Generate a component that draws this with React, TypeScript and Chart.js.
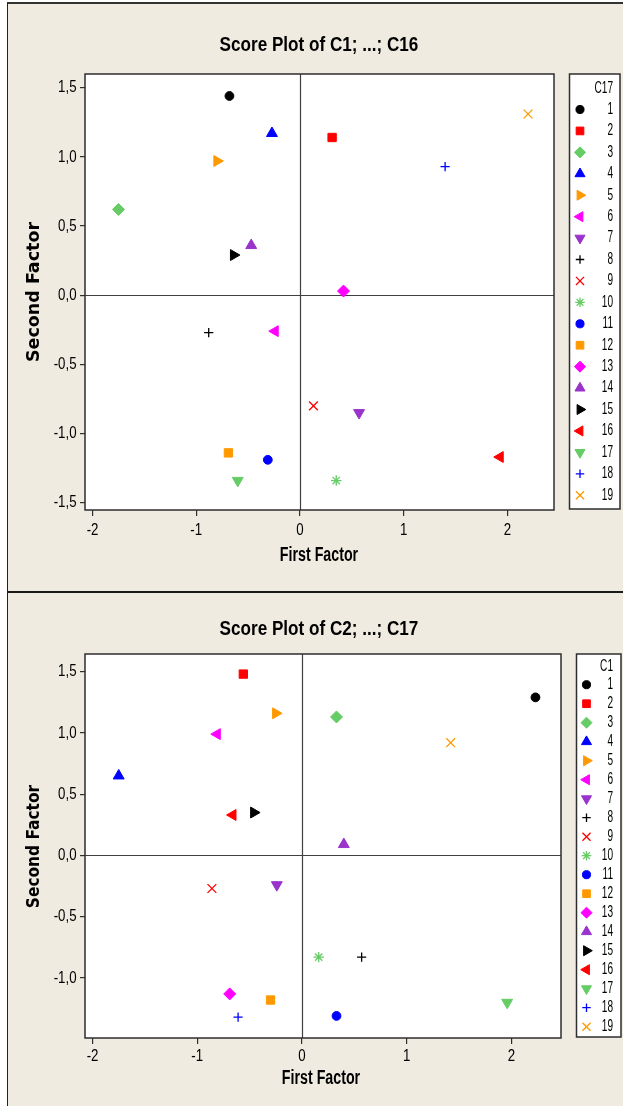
import React, { useEffect, useRef } from 'react';
import { Chart, registerables } from 'chart.js';
import { drawPoint } from 'chart.js/helpers';

Chart.register(...registerables);

// ---------- data ----------
const groups = ['1', '2', '3', '4', '5', '6', '7', '8', '9', '10', '11', '12', '13', '14', '15', '16', '17', '18', '19'];

// Panel 1: Score Plot of C1; ...; C16 (grouped by C17)
const p1First = [-0.68, 0.31, -1.75, -0.27, -0.80, -0.24, 0.57, -0.88, 0.13, 0.35, -0.31, -0.69, 0.42, -0.47, -0.64, 1.93, -0.60, 1.40, 2.20];
const p1Second = [1.44, 1.14, 0.62, 1.17, 0.97, -0.26, -0.85, -0.27, -0.80, -1.34, -1.19, -1.14, 0.03, 0.36, 0.29, -1.17, -1.34, 0.93, 1.31];

// Panel 2: Score Plot of C2; ...; C17 (grouped by C1)
const p2First = [2.23, -0.56, 0.33, -1.75, -0.25, -0.81, -0.24, 0.57, -0.86, 0.16, 0.33, -0.30, -0.69, 0.40, -0.46, -0.66, 1.96, -0.61, 1.42];
const p2Second = [1.29, 1.48, 1.13, 0.65, 1.16, 0.99, -0.24, -0.83, -0.27, -0.83, -1.31, -1.18, -1.13, 0.09, 0.35, 0.33, -1.20, -1.32, 0.92];

const p1XRange = [-2.073, 2.45];
const p1YRange = [-1.553, 1.599];
const p2XRange = [-2.072, 2.474];
const p2YRange = [-1.49, 1.644];

const xStep = 1;
const yStep = 0.5;

// ---------- styles ----------
const colors = ['#000000', '#ff0000', '#66cc66', '#0000ff', '#ff9900', '#ff00ff', '#9933cc', '#000000', '#ff0000', '#66cc66',
  '#0000ff', '#ff9900', '#ff00ff', '#9933cc', '#000000', '#ff0000', '#66cc66', '#0000ff', '#ff9900'];
const shapes = ['circle', 'rect', 'rectRot', 'triangle', 'triangle', 'triangle', 'triangle', 'cross', 'crossRot', 'star',
  'circle', 'rect', 'rectRot', 'triangle', 'triangle', 'triangle', 'triangle', 'cross', 'crossRot'];
const rotations = [0, 0, 0, 0, 90, 270, 180, 0, 0, 0, 0, 0, 0, 0, 90, 270, 180, 0, 0];

const radiusFor = (s: string) => {
  switch (s) {
    case 'circle': return 4.4;
    case 'rect': return 5.9;
    case 'rectRot': return 6;
    case 'triangle': return 6.3;
    case 'cross': return 4.6;
    case 'crossRot': return 6.2;
    case 'star': return 5.2;
    default: return 5;
  }
};
const strokeOnly = (s: string) => s === 'cross' || s === 'crossRot' || s === 'star';

const SANS = "'Liberation Sans', Arial, sans-serif";
const WIDE = "'DejaVu Sans', Verdana, sans-serif";
const INK = '#2e2e2e';

const fmtY = (v: number) => (Math.round(v * 10) / 10).toFixed(1).replace('.', ',');
const fmtX = (v: number) => String(Math.round(v));

type PanelCfg = {
  title: string;
  titleX: number;
  titleY: number;
  xTitleX: number;
  xTitleY: number;
  xLabelOffset: number;
  yTitleX: number;
  yTitleY: number;
  yTitleStretch: number;
  legendTitle: string;
  legendBox: number[];
  legendMarkerX: number;
  legendTextX: number;
  legendHeaderY: number;
  legendFirstY: number;
  legendStep: number;
};

function makeDatasets(xs: number[], ys: number[]) {
  return groups.map((g, i) => {
    const s = shapes[i];
    const r = radiusFor(s);
    return {
      label: g,
      data: [{ x: xs[i], y: ys[i] }],
      pointStyle: s,
      pointRotation: rotations[i],
      pointRadius: r,
      pointHoverRadius: r,
      backgroundColor: colors[i],
      borderColor: colors[i],
      borderWidth: strokeOnly(s) ? 1.3 : 1,
    };
  });
}

function narrowText(ctx: CanvasRenderingContext2D, text: string, x: number, y: number, align: CanvasTextAlign, font: string, sx: number) {
  ctx.save();
  ctx.translate(x, y);
  ctx.scale(sx, 1);
  ctx.font = font;
  ctx.textAlign = align;
  ctx.textBaseline = 'middle';
  ctx.fillStyle = '#000';
  ctx.fillText(text, 0, 0);
  ctx.restore();
}

function panelPlugin(cfg: PanelCfg) {
  return {
    id: 'panelDeco',
    beforeDraw(chart: any) {
      const { ctx, chartArea: a } = chart;
      ctx.save();
      ctx.fillStyle = '#ffffff';
      ctx.fillRect(a.left, a.top, a.right - a.left, a.bottom - a.top);
      ctx.restore();
    },
    beforeDatasetsDraw(chart: any) {
      const { ctx, chartArea: a, scales } = chart;
      const x0 = Math.round(scales.x.getPixelForValue(0)) + 0.5;
      const y0 = Math.round(scales.y.getPixelForValue(0)) + 0.5;
      ctx.save();
      ctx.strokeStyle = '#404040';
      ctx.lineWidth = 1.2;
      ctx.beginPath();
      ctx.moveTo(x0, a.top);
      ctx.lineTo(x0, a.bottom);
      ctx.moveTo(a.left, y0);
      ctx.lineTo(a.right, y0);
      ctx.stroke();
      ctx.restore();
    },
    afterDraw(chart: any) {
      const { ctx, chartArea: a, scales } = chart;
      ctx.save();
      // frame
      ctx.strokeStyle = INK;
      ctx.lineWidth = 1.5;
      ctx.strokeRect(a.left, a.top, a.right - a.left, a.bottom - a.top);

      // tick labels (narrow)
      const tickFont = `17px ${SANS}`;
      scales.x.ticks.forEach((t: any) => {
        narrowText(ctx, fmtX(t.value), scales.x.getPixelForValue(t.value), a.bottom + cfg.xLabelOffset, 'center', tickFont, 0.78);
      });
      scales.y.ticks.forEach((t: any) => {
        narrowText(ctx, fmtY(t.value), a.left - 8.5, scales.y.getPixelForValue(t.value), 'right', tickFont, 0.78);
      });

      // title
      narrowText(ctx, cfg.title, cfg.titleX, cfg.titleY, 'center', `bold 21px ${SANS}`, 0.815);
      // x title
      narrowText(ctx, 'First Factor', cfg.xTitleX, cfg.xTitleY, 'center', `bold 19.5px ${SANS}`, 0.73);

      // y title
      ctx.save();
      ctx.translate(cfg.yTitleX, cfg.yTitleY);
      ctx.rotate(-Math.PI / 2);
      ctx.scale(cfg.yTitleStretch, 1);
      ctx.font = `bold 17.5px ${WIDE}`;
      ctx.textAlign = 'center';
      ctx.textBaseline = 'middle';
      ctx.fillStyle = '#000';
      ctx.fillText('Second Factor', 0, 0);
      ctx.restore();

      // legend
      const [l, t, r, b] = cfg.legendBox;
      ctx.fillStyle = '#ffffff';
      ctx.fillRect(l, t, r - l, b - t);
      ctx.strokeStyle = INK;
      ctx.lineWidth = 1.5;
      ctx.strokeRect(l, t, r - l, b - t);

      const legFont = `16px ${SANS}`;
      narrowText(ctx, cfg.legendTitle, cfg.legendTextX, cfg.legendHeaderY, 'right', legFont, 0.63);

      chart.data.datasets.forEach((ds: any, i: number) => {
        const y = cfg.legendFirstY + i * cfg.legendStep;
        ctx.save();
        ctx.fillStyle = ds.backgroundColor;
        ctx.strokeStyle = ds.borderColor;
        ctx.lineWidth = ds.borderWidth;
        drawPoint(ctx, {
          pointStyle: ds.pointStyle,
          rotation: ds.pointRotation,
          radius: ds.pointRadius * 0.92,
          borderWidth: ds.borderWidth,
        } as any, cfg.legendMarkerX, y);
        ctx.restore();
        narrowText(ctx, ds.label, cfg.legendTextX, y, 'right', legFont, 0.63);
      });
      ctx.restore();
    },
  };
}

function makeChart(
  canvas: HTMLCanvasElement,
  xs: number[], ys: number[],
  xRange: number[], yRange: number[],
  pad: { top: number; right: number },
  xAxisH: number,
  cfg: PanelCfg,
) {
  const hidden = { family: SANS, size: 16 };
  return new Chart(canvas, {
    type: 'scatter',
    data: { datasets: makeDatasets(xs, ys) as any },
    plugins: [panelPlugin(cfg) as any],
    options: {
      animation: false,
      responsive: false,
      devicePixelRatio: 1,
      layout: { padding: { top: pad.top, right: pad.right, left: 0, bottom: 0 } },
      plugins: { legend: { display: false }, title: { display: false }, tooltip: { enabled: false } },
      events: [],
      scales: {
        x: {
          type: 'linear',
          min: xRange[0],
          max: xRange[1],
          afterFit: (s: any) => { s.height = xAxisH; },
          grid: { display: true, drawOnChartArea: false, drawTicks: true, tickLength: 6, color: INK, lineWidth: 1.2 },
          border: { display: false },
          ticks: {
            stepSize: xStep,
            includeBounds: false,
            autoSkip: false,
            maxRotation: 0,
            color: 'rgba(0,0,0,0)',
            font: hidden,
            callback: (v: any) => fmtX(Number(v)),
          },
        },
        y: {
          type: 'linear',
          min: yRange[0],
          max: yRange[1],
          afterFit: (s: any) => { s.width = 85; },
          grid: { display: true, drawOnChartArea: false, drawTicks: true, tickLength: 5, color: INK, lineWidth: 1.2 },
          border: { display: false },
          ticks: {
            stepSize: yStep,
            includeBounds: false,
            autoSkip: false,
            color: 'rgba(0,0,0,0)',
            font: hidden,
            callback: (v: any) => fmtY(Number(v)),
          },
        },
      },
    } as any,
  });
}

export default function App() {
  const c1 = useRef<HTMLCanvasElement>(null);
  const c2 = useRef<HTMLCanvasElement>(null);

  useEffect(() => {
    const ch1 = makeChart(
      c1.current!, p1First, p1Second, p1XRange, p1YRange,
      { top: 74, right: 69 }, 82,
      {
        title: 'Score Plot of C1; ...; C16',
        titleX: 319, titleY: 45,
        xTitleX: 319, xTitleY: 556,
        xLabelOffset: 20,
        yTitleX: 34, yTitleY: 292, yTitleStretch: 1,
        legendTitle: 'C17',
        legendBox: [569.5, 74, 620, 509],
        legendMarkerX: 580,
        legendTextX: 613,
        legendHeaderY: 88.5,
        legendFirstY: 109.5,
        legendStep: 21.43,
      },
    );
    const ch2 = makeChart(
      c2.current!, p2First, p2Second, p2XRange, p2YRange,
      { top: 62, right: 62 }, 68,
      {
        title: 'Score Plot of C2; ...; C17',
        titleX: 319, titleY: 37,
        xTitleX: 321, xTitleY: 487,
        xLabelOffset: 18,
        yTitleX: 34, yTitleY: 254.5, yTitleStretch: 0.88,
        legendTitle: 'C1',
        legendBox: [576.5, 62, 621, 445],
        legendMarkerX: 586.5,
        legendTextX: 613,
        legendHeaderY: 74.7,
        legendFirstY: 92.7,
        legendStep: 19.0,
      },
    );
    return () => { ch1.destroy(); ch2.destroy(); };
  }, []);

  return (
    <div style={{ position: 'absolute', left: 0, top: 0, width: 623, height: 1106, background: '#ffffff', overflow: 'hidden' }}>
      <div style={{ position: 'absolute', left: 7, top: 2, width: 616, height: 1104, background: '#efebe1', borderLeft: '1px solid #222', borderTop: '2px solid #333', boxSizing: 'border-box' }} />
      <div style={{ position: 'absolute', left: 7, top: 591, width: 616, height: 2, background: '#1a1a1a' }} />
      <canvas ref={c1} width={623} height={592} style={{ position: 'absolute', left: 0, top: 0, width: 623, height: 592 }} />
      <canvas ref={c2} width={623} height={514} style={{ position: 'absolute', left: 0, top: 592, width: 623, height: 514 }} />
    </div>
  );
}
